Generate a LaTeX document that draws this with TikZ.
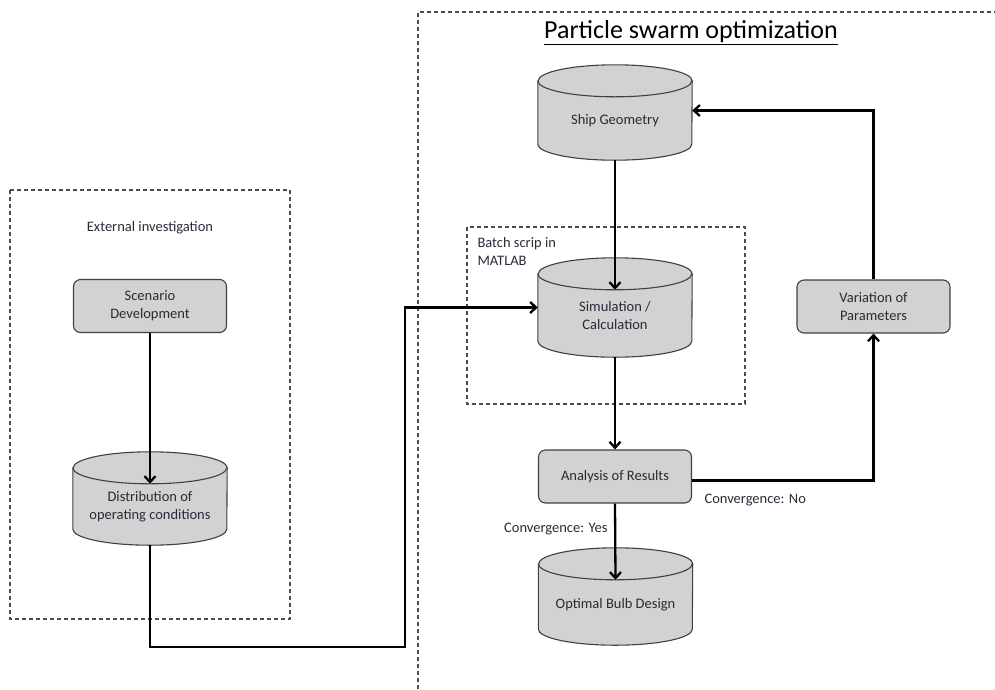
\documentclass[tikz,border=0pt]{standalone}
\usepackage{fontspec}
\setmainfont{Carlito}
\usetikzlibrary{arrows.meta,calc,backgrounds}
\definecolor{txt}{HTML}{2A2A38}
\definecolor{boxfill}{HTML}{D2D2D2}
\newcommand\cylrx{77}
\newcommand\cylry{16}
% cylinder outline drawn around a node whose north edge is the centre line of the top ellipse
\newcommand\drawcyl[1]{%
  \path[cylshape] (#1.north west) -- ($(#1.south west)+(0,-\cylry)$)
    arc[start angle=180,end angle=0,x radius=\cylrx,y radius=\cylry]
    -- (#1.north east)
    arc[start angle=0,end angle=-180,x radius=\cylrx,y radius=\cylry] -- cycle;
  \draw[cylline] (#1.north west) arc[start angle=180,end angle=0,x radius=\cylrx,y radius=\cylry];}
\begin{document}
\begin{tikzpicture}[x=1pt,y=-1pt,
  lbl/.style={font=\fontsize{14.5}{18}\selectfont, text=txt, align=center},
  box/.style={lbl, draw=black!75, fill=boxfill, rounded corners=7pt, line width=1.1pt,
    minimum width=153pt, minimum height=53pt, inner sep=0pt},
  cyl/.style={lbl, draw=none, minimum width=154pt, inner sep=0pt},
  cylshape/.style={draw=black!75, fill=boxfill, line width=1.1pt},
  cylline/.style={draw=black!75, line width=1.1pt},
  flow/.style={draw=black, line width=2.3pt, -{Straight Barb[length=6pt,width=11pt]}},
  frame/.style={draw=black!70, line width=1.1pt, dash pattern=on 4pt off 3pt},
  note/.style={font=\fontsize{14.5}{18}\selectfont, text=txt}
]
\useasboundingbox (0,0) rectangle (995,689);

% dashed frames
\draw[frame] (418,689) -- (418,12) -- (995,12);
\draw[frame] (10,190) rectangle (290,619);
\draw[frame] (467,227) rectangle (745,404);

% titles and frame captions
\node[font=\fontsize{26}{30}\selectfont, text=black] (title) at (691,33) {\underline{Particle swarm optimization}};
\node[note] (ext) at (150,228) {External investigation};
\node[note, align=left, anchor=north west] (batch) at (474,234) {Batch scrip in\\MATLAB};

% process boxes
\node[box] (scen) at (150,306) {Scenario\\Development};
\node[box] (anal) at (615,476.5) {Analysis of Results};
\node[box] (var)  at (873.5,306.5) {Variation of\\Parameters};

% data stores (cylinders)
\node[cyl, minimum height=79pt] (ship) at (615,120.5) {Ship Geometry};
\node[cyl, minimum height=83pt] (sim)  at (615,315.5) {Simulation /\\Calculation};
\node[cyl, minimum height=77pt] (dist) at (150,506.5) {Distribution of\\operating conditions};
\node[cyl, minimum height=81pt] (bulb) at (615.5,604.5) {Optimal Bulb Design};

\begin{pgfonlayer}{background}
  \drawcyl{ship}
  \drawcyl{sim}
  \drawcyl{dist}
  \drawcyl{bulb}
\end{pgfonlayer}

% connectors
\coordinate (low) at (405,647);
\draw[flow] (scen.south) -- ($(dist.north)+(0,\cylry)$);
\draw[flow] (ship.south) -- ($(sim.north)+(0,\cylry)$);
\draw[flow] (sim.south) -- (anal.north);
\draw[flow] (anal.south) -- ($(bulb.north)+(0,\cylry)$);
\draw[flow] (dist.south) |- (low) |- ($(sim.west)+(0,-8)$);
\draw[flow] ($(anal.east)+(0,4)$) -| (var.south);
\draw[flow] (var.north) |- ($(ship.east)+(0,-10)$);

% branch labels
\node[note, anchor=east] (yes) at (611,529) {Convergence: Yes};
\node[note, anchor=west] (no) at (701,500) {Convergence: No};
\end{tikzpicture}
\end{document}
